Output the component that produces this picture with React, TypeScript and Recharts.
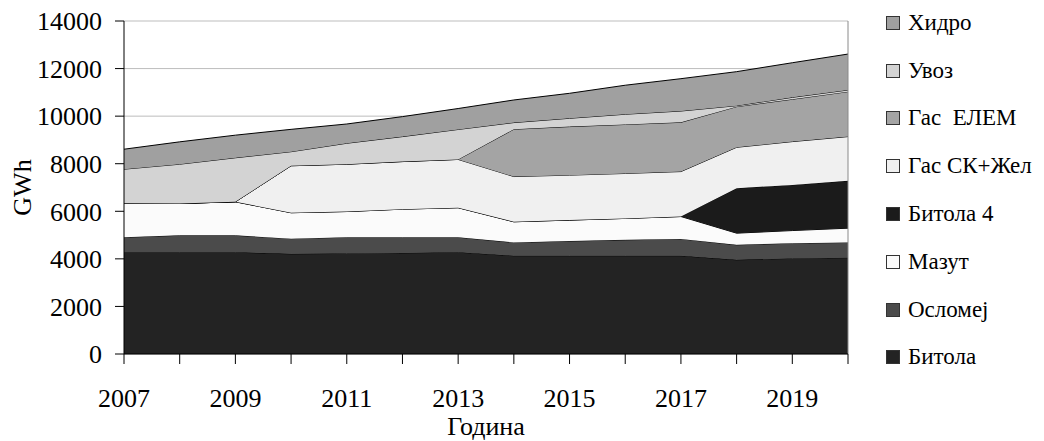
import {
  Area,
  AreaChart,
  CartesianGrid,
  Legend,
  ReferenceLine,
  XAxis,
  YAxis,
} from 'recharts'

// Production by source, GWh, 2007–2020
const years = [2007, 2008, 2009, 2010, 2011, 2012, 2013, 2014, 2015, 2016, 2017, 2018, 2019, 2020]
const xTickLabels = ['2007', '2009', '2011', '2013', '2015', '2017', '2019']
const yTicks = [0, 2000, 4000, 6000, 8000, 10000, 12000, 14000]

const bitola = [4280, 4280, 4280, 4210, 4230, 4250, 4280, 4130, 4130, 4130, 4130, 3960, 4020, 4050]
const oslomej = [630, 710, 710, 640, 680, 660, 630, 560, 620, 670, 710, 630, 640, 640]
const mazut = [1430, 1340, 1410, 1090, 1080, 1180, 1240, 870, 880, 900, 940, 490, 530, 600]
const bitola4 = [0, 0, 0, 0, 0, 0, 0, 0, 0, 0, 0, 1890, 1920, 1990]
const gasSk = [0, 0, 0, 1975, 1990, 2000, 2030, 1900, 1890, 1890, 1890, 1720, 1820, 1860]
const gasElem = [0, 0, 0, 0, 0, 0, 0, 1990, 2040, 2060, 2070, 1710, 1780, 1890]
const uvoz = [1430, 1650, 1850, 590, 880, 1050, 1260, 280, 350, 430, 475, 40, 80, 70]
const hidro = [840, 940, 950, 940, 810, 840, 880, 950, 1050, 1220, 1360, 1430, 1455, 1510]

// bottom of the stack first
const series = [
  { key: 'bitola', name: 'Битола', values: bitola, color: '#232323' },
  { key: 'oslomej', name: 'Осломеј', values: oslomej, color: '#4b4b4b' },
  { key: 'mazut', name: 'Мазут', values: mazut, color: '#fbfbfb' },
  { key: 'bitola4', name: 'Битола 4', values: bitola4, color: '#1b1b1b' },
  { key: 'gasSk', name: 'Гас СК+Жел', values: gasSk, color: '#f0f0f0' },
  { key: 'gasElem', name: 'Гас  ЕЛЕМ', values: gasElem, color: '#a4a4a4' },
  { key: 'uvoz', name: 'Увоз', values: uvoz, color: '#d3d3d3' },
  { key: 'hidro', name: 'Хидро', values: hidro, color: '#a0a0a0' },
]

const data = years.map((year, i) => {
  const row: Record<string, number> = { year }
  series.forEach((s) => {
    row[s.key] = s.values[i]
  })
  return row
})

const FONT = '"Liberation Serif", "Times New Roman", serif'

function LegendList() {
  return (
    <div style={{ fontFamily: FONT, fontSize: 23, color: '#000' }}>
      {[...series].reverse().map((s) => (
        <div
          key={s.key}
          style={{ height: 47.8, display: 'flex', alignItems: 'center', whiteSpace: 'pre' }}
        >
          <span
            style={{
              display: 'inline-block',
              width: 12,
              height: 12,
              background: s.color,
              border: '1px solid #333',
              marginRight: 8,
            }}
          />
          {s.name}
        </div>
      ))}
    </div>
  )
}

export default function App() {
  return (
    <div style={{ position: 'absolute', left: 0, top: 0, width: 1044, height: 441, background: '#fff' }}>
      <AreaChart
        width={1044}
        height={441}
        data={data}
        margin={{ top: 21, right: 196, left: 0, bottom: 0 }}
        style={{ fontFamily: FONT }}
      >
        <CartesianGrid vertical={false} stroke="#bdbdbd" />
        <XAxis
          dataKey="year"
          type="number"
          domain={[2007, 2020]}
          ticks={years}
          interval={0}
          height={87}
          tickSize={10}
          tickMargin={25}
          stroke="#000"
          tick={{ fontSize: 26, fill: '#000', fontFamily: FONT }}
          tickFormatter={(v: number) => (xTickLabels.includes(String(v)) ? String(v) : '')}
          label={{ value: 'Година', position: 'insideBottom', offset: 6, fontSize: 26, fill: '#000', fontFamily: FONT }}
        />
        <YAxis
          type="number"
          domain={[0, 14000]}
          ticks={yTicks}
          width={124}
          tickSize={9}
          tickMargin={13}
          stroke="#000"
          tick={{ fontSize: 26, fill: '#000', fontFamily: FONT }}
          label={{
            value: 'GWh',
            angle: -90,
            position: 'insideLeft',
            offset: 22,
            fontSize: 26,
            fill: '#000',
            fontFamily: FONT,
            style: { textAnchor: 'middle' },
          }}
        />
        {series.map((s) => (
          <Area
            key={s.key}
            type="linear"
            dataKey={s.key}
            name={s.name}
            stackId="1"
            stroke="#000"
            strokeWidth={1}
            fill={s.color}
            fillOpacity={1}
            dot={false}
            activeDot={false}
            isAnimationActive={false}
          />
        ))}
        <ReferenceLine x={2020} stroke="#8a8a8a" />
        <Legend
          layout="vertical"
          align="center"
          verticalAlign="middle"
          content={() => <LegendList />}
          wrapperStyle={{ left: 886, top: -1, width: 158 }}
        />
      </AreaChart>
    </div>
  )
}
